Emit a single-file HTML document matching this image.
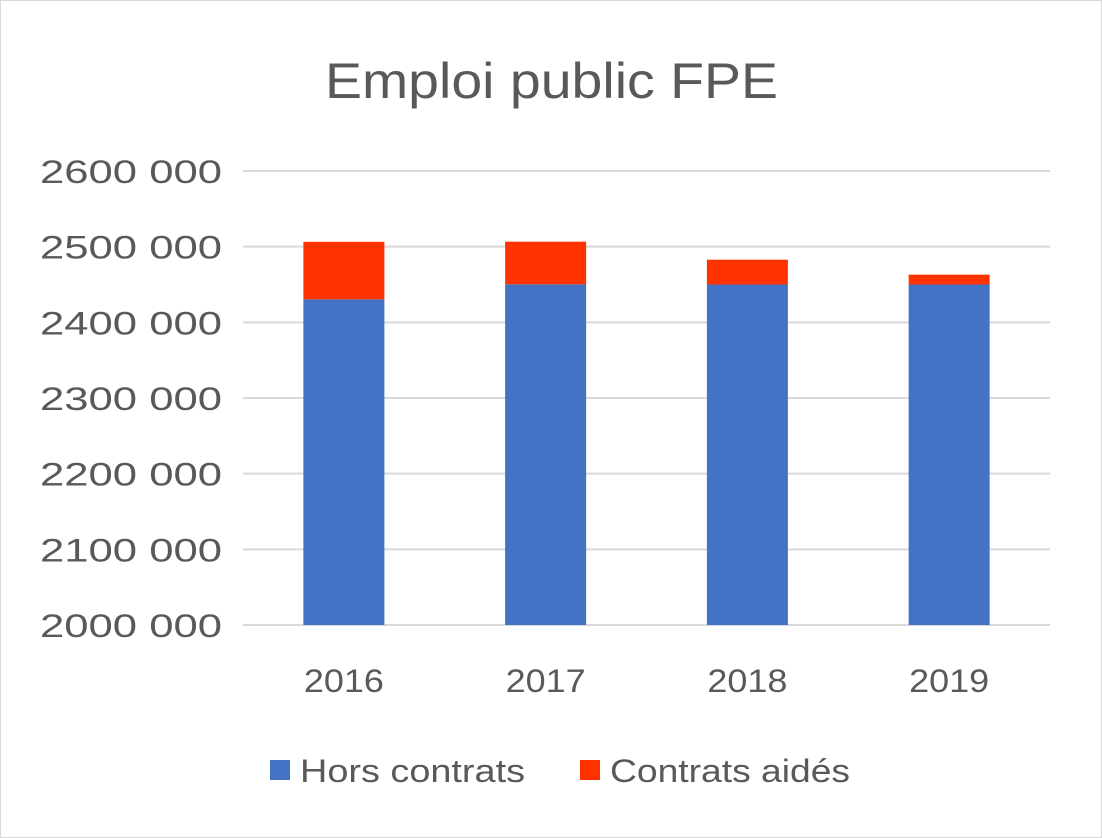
<!DOCTYPE html>
<html><head><meta charset="utf-8"><style>
body{margin:0;background:#fff}
svg{display:block;font-family:"Liberation Sans",sans-serif}
</style></head><body>
<svg id="chart" width="1102" height="838">
<rect x="0.5" y="0.5" width="1101" height="837" fill="#fff" stroke="#d9d9d9"/>
<text x="325" y="98" font-size="50" fill="#595959" textLength="453" lengthAdjust="spacingAndGlyphs">Emploi public FPE</text>
<g id="grid"></g><g id="bars"></g><g id="xlabels"></g>
<g>
<rect x="270" y="760" width="20" height="20" fill="#4472c4"/>
<text x="300" y="782" font-size="32" fill="#595959" textLength="225" lengthAdjust="spacingAndGlyphs">Hors contrats</text>
<rect x="580" y="760" width="20" height="20" fill="#ff3300"/>
<text x="610" y="782" font-size="32" fill="#595959" textLength="240" lengthAdjust="spacingAndGlyphs">Contrats aidés</text>
</g>
</svg>
<script>
const categories=["2016","2017","2018","2019"];
const horsContrats=[2430400,2450200,2450000,2450000];
const contratsAides=[76000,56400,32800,13000];
const yTicks=[2000000,2100000,2200000,2300000,2400000,2500000,2600000];
const ns="http://www.w3.org/2000/svg";
const yMin=2000000,yMax=2600000,y0=625,y1=171,xL=243,xR=1050;
const y=v=>y0-(v-yMin)/(yMax-yMin)*(y0-y1);
const bw=(xR-xL)/categories.length, barW=81;
function mk(t,a){const e=document.createElementNS(ns,t);for(const k in a)e.setAttribute(k,a[k]);return e;}
const fmt=v=>{const s=String(v);return s.slice(0,s.length-3)+" "+s.slice(-3);};
const grid=document.getElementById('grid');
yTicks.forEach(v=>{
 const l=mk('line',{x1:xL,x2:xR,y1:y(v),y2:y(v),stroke:'#d9d9d9','stroke-width':2});
 
 
 grid.appendChild(l);
 const t=mk('text',{x:222,y:y(v)+12,'font-size':32,fill:'#595959','text-anchor':'end',textLength:182,lengthAdjust:'spacingAndGlyphs'});
 t.textContent=fmt(v);
 
 
 grid.appendChild(t);
});
const bars=document.getElementById('bars'),xl=document.getElementById('xlabels');
categories.forEach((c,i)=>{
 const cx=xL+bw*(i+0.5);
 const h=horsContrats[i],a=contratsAides[i];
 const b1=mk('rect',{x:cx-barW/2,y:y(h),width:barW,height:y(yMin)-y(h),fill:'#4472c4'});
 
 
 bars.appendChild(b1);
 const b2=mk('rect',{x:cx-barW/2,y:y(h+a),width:barW,height:y(h)-y(h+a),fill:'#ff3300'});
 
 
 bars.appendChild(b2);
 const t=mk('text',{x:cx,y:692,'font-size':32,fill:'#595959','text-anchor':'middle',textLength:80,lengthAdjust:'spacingAndGlyphs'});
 t.textContent=c;
 
 
 xl.appendChild(t);
});
</script>
</body></html>
